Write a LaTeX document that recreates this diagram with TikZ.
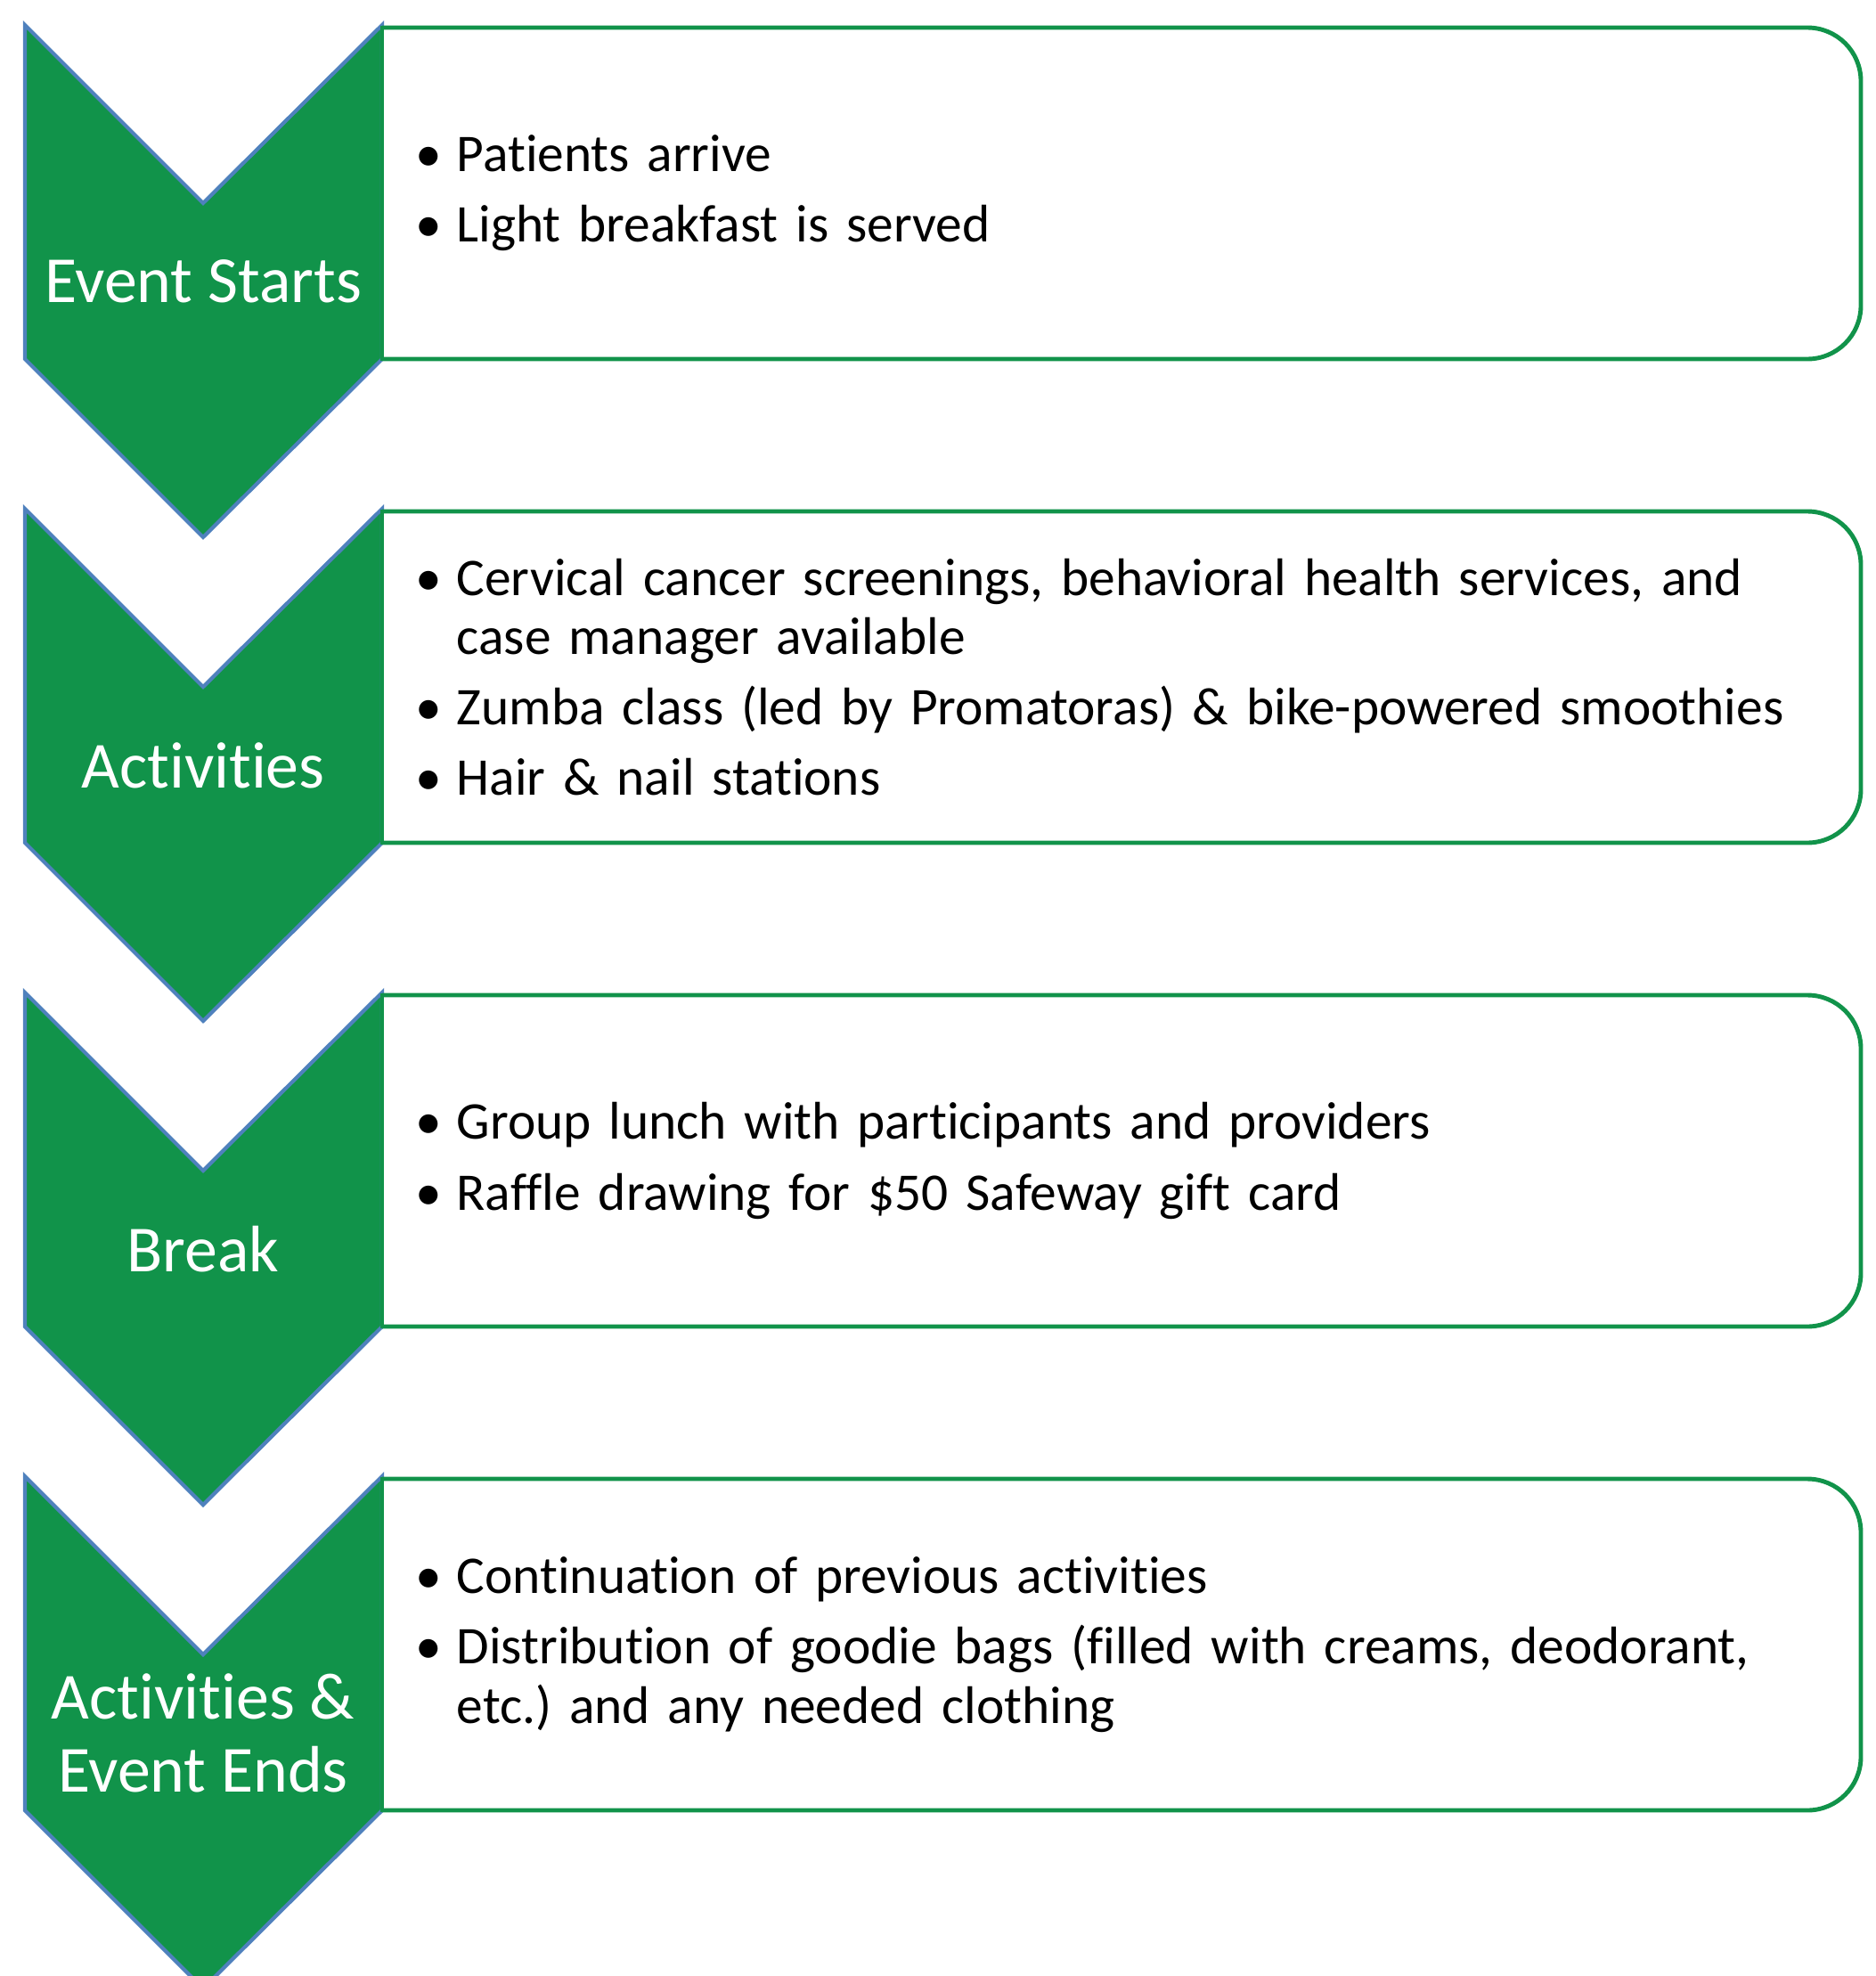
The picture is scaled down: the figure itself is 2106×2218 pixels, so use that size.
\documentclass[tikz,border=0pt]{standalone}
\usepackage{fontspec}
\setmainfont{Carlito}[Ligatures=CommonOff]
\frenchspacing
\definecolor{evgreen}{RGB}{17,147,74}
\definecolor{evblue}{RGB}{79,129,189}
\tikzset{
	chevshape/.style={fill=evgreen, draw=evblue, line width=1.2pt, line join=miter},
	boxline/.style={draw=evgreen, line width=1.4pt},
	chevlabel/.style={text=white, inner sep=0pt, align=center, font=\fontsize{21}{23.3}\selectfont},
	itemtext/.style={anchor=west, inner sep=0pt, text width=16cm, align=left, font=\fontsize{16.9}{18.9}\selectfont}
}
\def\chevron(#1){\draw[chevshape] (28,#1) -- (228,#1+200) -- (429,#1) -- (429,#1+375) -- (228,#1+575) -- (28,#1+375) -- cycle;}
\def\stepbox(#1){\fill[white] (429,#1+3) rectangle (2060,#1+375);
	\draw[boxline, rounded corners=0.6cm] (429,#1+3) -- (2089,#1+3) -- (2089,#1+375) -- (429,#1+375);
	\draw[boxline, line cap=rect] (429,#1+3) -- (429,#1+375);}
\def\bitem#1{\hangindent=0.46cm\hangafter=1\noindent\makebox[0.46cm][l]{•}#1\par}

\begin{document}
\begin{tikzpicture}[x=0.01cm, y=-0.01cm]
		%%%%% START %%%%%
		\useasboundingbox (0,0) rectangle (2106,2218);
		
		\chevron(28)
		\stepbox(28)
		\node[chevlabel] (startlbl) at (228, 28+288) {Event Starts};
		\node[itemtext] (starttxt) at (466, 28+189) {\setlength{\parskip}{3.6pt}%
			\bitem{Patients arrive}
			\bitem{Light breakfast is served}};
		
		\chevron(571)
		\stepbox(571)
		\node[chevlabel] (actlbl) at (228, 571+288) {Activities};
		\node[itemtext] (acttxt) at (466, 571+189) {\setlength{\parskip}{3.6pt}%
			\bitem{Cervical cancer screenings, behavioral health services, and\newline case manager available}
			\bitem{Zumba class (led by Promatoras) \& bike-powered smoothies}
			\bitem{Hair \& nail stations}};
		
		\chevron(1114)
		\stepbox(1114)
		\node[chevlabel] (breaklbl) at (228, 1114+288) {Break};
		\node[itemtext] (breaktxt) at (466, 1114+189) {\setlength{\parskip}{3.6pt}%
			\bitem{Group lunch with participants and providers}
			\bitem{Raffle drawing for \$50 Safeway gift card}};
		
		\chevron(1657)
		\stepbox(1657)
		\node[chevlabel] (endlbl) at (228, 1657+288) {Activities \&\\Event Ends};
		\node[itemtext] (endtxt) at (466, 1657+189) {\setlength{\parskip}{3.6pt}%
			\bitem{Continuation of previous activities}
			\bitem{Distribution of goodie bags (filled with creams, deodorant,\newline etc.) and any needed clothing}};
		%%%%% END %%%%%
\end{tikzpicture}
\end{document}
